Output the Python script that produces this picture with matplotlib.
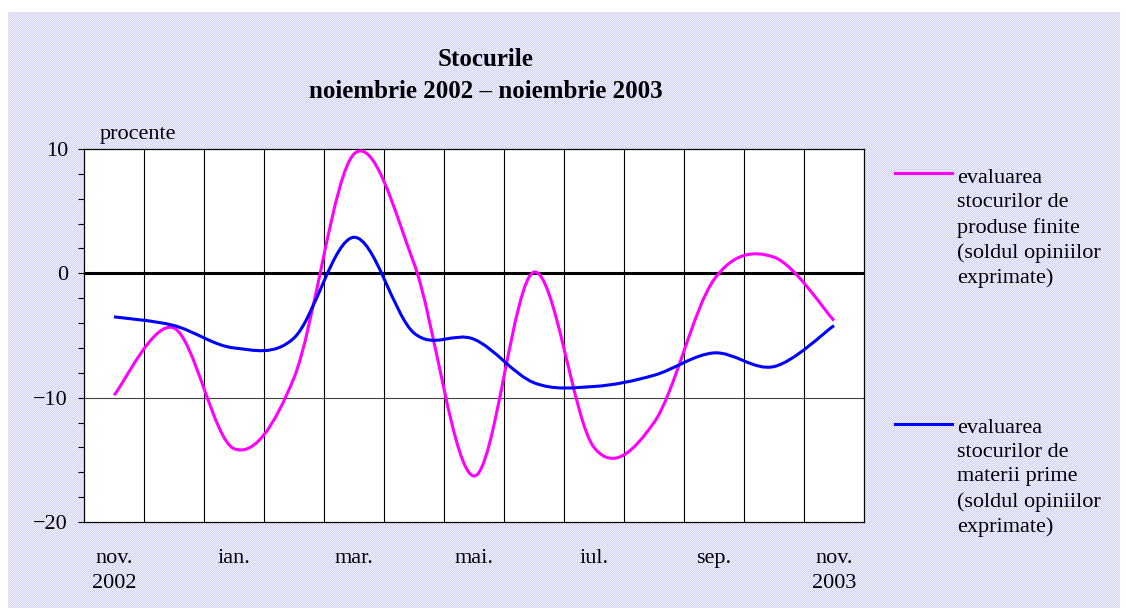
import numpy as np
import matplotlib
matplotlib.use('Agg')
import matplotlib.pyplot as plt
from matplotlib.path import Path
from matplotlib.patches import PathPatch
from matplotlib.lines import Line2D

plt.rcParams['font.family'] = ['Liberation Serif', 'DejaVu Serif']
plt.rcParams['font.size'] = 16

# date: soldul opiniilor exprimate, procente
luni = ['nov.\n2002', 'dec.', 'ian.', 'feb.', 'mar.', 'apr.', 'mai.',
        'iun.', 'iul.', 'aug.', 'sep.', 'oct.', 'nov.\n2003']
produse_finite = [-9.8, -4.4, -14.1, -8.4, 9.6, 0.8, -16.3, 0.1, -14.0, -12.0, -0.5, 1.3, -3.8]
materii_prime = [-3.5, -4.2, -6.0, -5.2, 2.9, -4.8, -5.3, -8.8, -9.1, -8.2, -6.4, -7.5, -4.2]

eticheta_produse = 'evaluarea\nstocurilor de\nproduse finite\n(soldul opiniilor\nexprimate)'
eticheta_materii = 'evaluarea\nstocurilor de\nmaterii prime\n(soldul opiniilor\nexprimate)'

W, H = 1127, 614


def linie_netezita(xs, ys):
    # curba Bezier ca la "smoothed line" din Excel
    n = len(xs)
    verts = [(xs[0], ys[0])]
    codes = [Path.MOVETO]
    for i in range(n - 1):
        a = i - 1 if i > 0 else i
        b = i + 2 if i + 2 < n else i + 1
        c1 = (xs[i] + (xs[i + 1] - xs[a]) / 6, ys[i] + (ys[i + 1] - ys[a]) / 6)
        c2 = (xs[i + 1] - (xs[b] - xs[i]) / 6, ys[i + 1] - (ys[b] - ys[i]) / 6)
        verts += [c1, c2, (xs[i + 1], ys[i + 1])]
        codes += [Path.CURVE4] * 3
    return Path(verts, codes)


fig = plt.figure(figsize=(W / 100, H / 100), dpi=100)
fig.patch.set_facecolor('white')

# fundal cu model punctat
h, w = 596, 1112
yy, xx = np.mgrid[0:h, 0:w]
fundal = np.where((xx + yy) % 2 == 0, 0.0, 1.0)
c1 = np.array([0.82, 0.82, 1.0])
c2 = np.array([0.95, 0.95, 1.0])
img = c1 * fundal[..., None] + c2 * (1 - fundal[..., None])
im = fig.figimage(img, xo=8, yo=6, origin='upper')
im.set_zorder(-1)

ax = fig.add_axes([84 / W, 1 - 522 / H, 780 / W, 373 / H])
ax.set_facecolor('white')

x = np.arange(len(luni))
ax.add_patch(PathPatch(linie_netezita(x, produse_finite), fill=False,
                       edgecolor='#FF00FF', lw=2.2, zorder=4))
ax.add_patch(PathPatch(linie_netezita(x, materii_prime), fill=False,
                       edgecolor='#0000FF', lw=2.2, zorder=5))

ax.set_xlim(-0.5, 12.5)
ax.set_ylim(-20, 10)

ax.axhline(0, color='black', lw=2.2, zorder=3)
ax.axhline(-10, color='#444444', lw=0.8, zorder=2)

ax.set_xticks(x[::2])
ax.set_xticklabels([luni[i] for i in x[::2]], linespacing=1.42)
ax.set_xticks(np.arange(0.5, 12), minor=True)
ax.grid(axis='x', which='minor', color='black', lw=0.8)
ax.tick_params(axis='x', which='both', length=0, pad=19.5)

ax.set_yticks([-20, -10, 0, 10])
ax.set_yticks(np.arange(-20, 11, 2), minor=True)
ax.tick_params(axis='y', which='both', length=4.5, width=0.8, direction='out', pad=7)

for s in ax.spines.values():
    s.set_linewidth(0.9)

fig.text(486 / W, 1 - 76 / H, 'Stocurile\nnoiembrie 2002 – noiembrie 2003',
         ha='center', va='center', weight='bold', fontsize=18, linespacing=1.5)
fig.text(100 / W, 1 - 134 / H, 'procente', ha='left', va='center')

# legenda
fig.add_artist(Line2D([895 / W, 952 / W], [1 - 173 / H, 1 - 173 / H],
                      color='#FF00FF', lw=2.2))
fig.text(957 / W, 1 - 169 / H, eticheta_produse, ha='left', va='top', linespacing=1.37)
fig.add_artist(Line2D([895 / W, 952 / W], [1 - 424 / H, 1 - 424 / H],
                      color='#0000FF', lw=2.2))
fig.text(957 / W, 1 - 419 / H, eticheta_materii, ha='left', va='top', linespacing=1.37)

plt.savefig('out.png', dpi=100)
